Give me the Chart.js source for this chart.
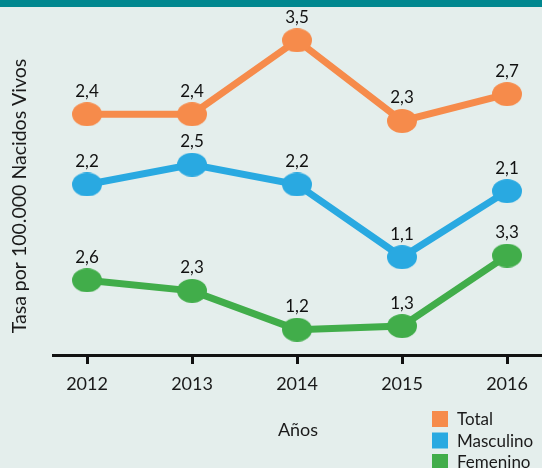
<!DOCTYPE html>
<html>
<head>
<meta charset="utf-8">
<script src="https://cdn.jsdelivr.net/npm/chart.js@4"></script>
<style>
  html, body { margin: 0; padding: 0; background: #e4eeec; }
  #wrap { width: 542px; height: 468px; position: relative; }
</style>
</head>
<body>
<div id="wrap"><canvas id="chart"></canvas></div>
<script>
const years = [2012, 2013, 2014, 2015, 2016];
const total = [2.4, 2.4, 3.5, 2.3, 2.7];
const masculino = [2.2, 2.5, 2.2, 1.1, 2.1];
const femenino = [2.6, 2.3, 1.2, 1.3, 3.3];
const seriesNames = ['Total', 'Masculino', 'Femenino'];
const seriesColors = ['#f68b4b', '#29a9e1', '#41ad4a'];

const FONT = 'Lato, "Open Sans", sans-serif';
const fmt = v => v.toFixed(1).replace('.', ',');

const toPoints = arr => arr.map((v, i) => ({ x: years[i], y: v }));

// markers in the original are slightly flattened ellipses
function ellipseMarker(color) {
    const c = document.createElement('canvas');
    c.width = 30; c.height = 24;
    const g = c.getContext('2d');
    g.fillStyle = color;
    g.beginPath();
    g.ellipse(15, 12, 15, 12, 0, 0, Math.PI * 2);
    g.fill();
    return c;
}

// background, top bar, titles, legend, value labels
const decor = {
    id: 'decor',
    beforeDraw(chart) {
        const ctx = chart.ctx;
        ctx.save();
        ctx.fillStyle = '#e4eeec';
        ctx.fillRect(0, 0, chart.width, chart.height);
        ctx.fillStyle = '#00878f';
        ctx.fillRect(0, 0, chart.width, 7);
        ctx.restore();
    },
    afterDraw(chart) {
        const ctx = chart.ctx;
        ctx.save();
        // value labels
        ctx.fillStyle = '#111';
        ctx.font = '17px ' + FONT;
        ctx.textAlign = 'center';
        ctx.textBaseline = 'middle';
        chart.data.datasets.forEach((ds, i) => {
            chart.getDatasetMeta(i).data.forEach((pt, j) => {
                ctx.fillText(fmt(ds.data[j].y), pt.x, pt.y - 23);
            });
        });
        // axis titles
        ctx.fillStyle = '#1a1a1a';
        ctx.font = '18px ' + FONT;
        ctx.fillText('Años', 298, 430);
        ctx.save();
        ctx.translate(20, 196);
        ctx.rotate(-Math.PI / 2);
        ctx.font = '19.5px ' + FONT;
        ctx.fillText('Tasa por 100.000 Nacidos Vivos', 0, 0);
        ctx.restore();
        // legend
        ctx.textAlign = 'left';
        ctx.font = '17px ' + FONT;
        seriesNames.forEach((name, i) => {
            const y = 419 + i * 21.5;
            ctx.fillStyle = seriesColors[i];
            ctx.fillRect(432, y - 8, 16, 16);
            ctx.fillStyle = '#1a1a1a';
            ctx.fillText(name, 457, y + 1);
        });
        ctx.restore();
    }
};

new Chart(document.getElementById('chart'), {
    type: 'line',
    data: {
        datasets: [
            { label: 'Total', data: toPoints(total), yAxisID: 'yT' },
            { label: 'Masculino', data: toPoints(masculino), yAxisID: 'yM' },
            { label: 'Femenino', data: toPoints(femenino), yAxisID: 'yF' }
        ].map((ds, i) => Object.assign(ds, {
            borderColor: seriesColors[i],
            backgroundColor: seriesColors[i],
            pointStyle: ellipseMarker(seriesColors[i]),
            pointRadius: 13,
            borderWidth: 7,
            tension: 0
        }))
    },
    options: {
        responsive: true,
        maintainAspectRatio: false,
        animation: false,
        layout: { autoPadding: false, padding: { left: 53, right: 0, top: 10, bottom: 0 } },
        plugins: {
            legend: { display: false },
            tooltip: { enabled: false }
        },
        scales: {
            x: {
                type: 'linear',
                bounds: 'data',
                min: 2011.676,
                max: 2016.333,
                afterBuildTicks: s => { s.ticks = years.map(v => ({ value: v })); },
                afterFit: s => {
                    s.height = 113;
                    s.paddingLeft = 0;
                    s.paddingRight = 0;
                },
                border: { display: true, color: '#111', width: 3 },
                grid: { drawOnChartArea: false, drawTicks: true, tickLength: 9, tickWidth: 3, tickColor: '#111' },
                ticks: {
                    padding: 9,
                    color: '#1a1a1a',
                    font: { family: FONT, size: 18 },
                    callback: v => String(v)
                }
            },
            // one hidden band per series, as in the original layout
            yT: { display: false, min: -1.18, max: 3.95 },
            yM: { display: false, min: -0.38, max: 4.84 },
            yF: { display: false, min: 0.48, max: 10.27 }
        }
    },
    plugins: [decor]
});
</script>
</body>
</html>
